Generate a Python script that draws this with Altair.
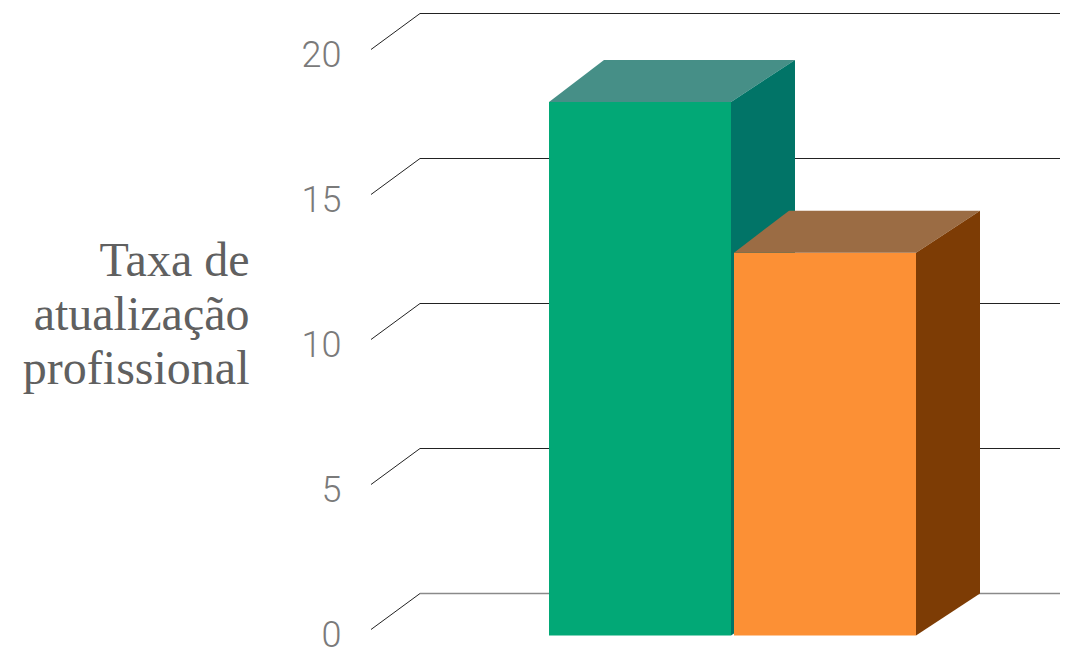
import altair as alt
import pandas as pd

# ---- data ----
categories = ["Grupo A", "Grupo B"]
values = [18.4, 13.2]
front_colors = ["#02A876", "#FC9035"]
top_colors = ["#468F87", "#9B6C44"]
side_colors = ["#017467", "#7D3C05"]
tick_values = [0, 5, 10, 15, 20]
title_lines = ["Taxa de", "atualização", "profissional"]

# ---- layout / style constants (pixels) ----
W, H = 1052, 644
PX_PER_UNIT = 29.0
BACK0_SCREEN = 593.5
Y_MAX = (BACK0_SCREEN - 8) / PX_PER_UNIT
Y_MIN = Y_MAX - H / PX_PER_UNIT
BAR_X0, BAR_W, BAR_GAP = 549, 182, 3
DX_LEFT, DX_RIGHT = 55, 64
D = 42 / PX_PER_UNIT          # bar depth in value units
G = 36 / PX_PER_UNIT          # grid depth in value units
GRID_X_FRONT, GRID_X_BACK, GRID_X_END = 371, 420, 1068

xs = alt.Scale(domain=[8, 8 + W], nice=False, zero=False)
ys = alt.Scale(domain=[Y_MIN, Y_MAX], nice=False, zero=False)

y_axis = alt.Axis(
    values=tick_values, domain=False, ticks=False, grid=False,
    labelFont="Roboto", labelFontWeight=300, labelFontSize=36,
    labelColor="#7a7a7a", labelPadding=0, labelOffset=42,
    labelBaseline="middle",
    offset=-(341 - 8),
    title=title_lines, titleAngle=0, titleAlign="right",
    titleBaseline="alphabetic", titleFont="Liberation Serif",
    titleFontWeight="normal", titleFontSize=48, titleColor="#606060",
    titleLineHeight=54, titleX=249 - 341, titleY=275 - 8,
)

# faces
rows = []
for i, (cat, v) in enumerate(zip(categories, values)):
    xl = BAR_X0 + i * (BAR_W + BAR_GAP)
    xr = xl + BAR_W
    fid = f"{i}-front"
    rows += [dict(face=fid, x=xl, y=-D, y2=v - D, fill=front_colors[i]),
             dict(face=fid, x=xr, y=-D, y2=v - D, fill=front_colors[i])]
    fid = f"{i}-top"
    rows += [dict(face=fid, x=xl, y=v - D, y2=v - D, fill=top_colors[i]),
             dict(face=fid, x=xl + DX_LEFT, y=v - D, y2=v, fill=top_colors[i]),
             dict(face=fid, x=xr, y=v - D, y2=v, fill=top_colors[i]),
             dict(face=fid, x=xr + DX_RIGHT, y=v, y2=v, fill=top_colors[i])]
    fid = f"{i}-side"
    rows += [dict(face=fid, x=xr, y=-D, y2=v - D, fill=side_colors[i]),
             dict(face=fid, x=xr + DX_RIGHT, y=0, y2=v, fill=side_colors[i])]
faces = pd.DataFrame(rows)

grid = pd.DataFrame({
    "t": tick_values,
    "tf": [t - G for t in tick_values],
    "xf": [GRID_X_FRONT] * len(tick_values),
    "xb": [GRID_X_BACK] * len(tick_values),
    "xe": [GRID_X_END] * len(tick_values),
})

diag = alt.Chart(grid).mark_rule(strokeWidth=1, color="#222222").encode(
    x=alt.X("xf:Q", scale=xs, axis=None),
    x2="xb:Q",
    y=alt.Y("tf:Q", scale=ys, axis=y_axis),
    y2="t:Q",
)

horiz_top = alt.Chart(grid).transform_filter("datum.t > 0").mark_rule(
    strokeWidth=1, color="#222222").encode(
    x=alt.X("xb:Q", scale=xs, axis=None),
    x2="xe:Q",
    y=alt.Y("t:Q", scale=ys, axis=y_axis),
)
horiz_base = alt.Chart(grid).transform_filter("datum.t == 0").mark_rule(
    strokeWidth=1.6, color="#8a8a8a").encode(
    x=alt.X("xb:Q", scale=xs, axis=None),
    x2="xe:Q",
    y=alt.Y("t:Q", scale=ys, axis=y_axis),
)

bars = alt.Chart(faces).mark_area(opacity=1).encode(
    x=alt.X("x:Q", scale=xs, axis=None),
    y=alt.Y("y:Q", scale=ys, axis=y_axis, stack=None),
    y2="y2:Q",
    fill=alt.Fill("fill:N", scale=None),
    detail="face:N",
)

chart = alt.layer(diag, horiz_top, horiz_base, bars).properties(
    width=W, height=H, padding=0,
    autosize=alt.AutoSizeParams(type="none"),
).configure_view(stroke=None)

chart.save("out.html", embed_options={"renderer": "svg", "actions": False})
